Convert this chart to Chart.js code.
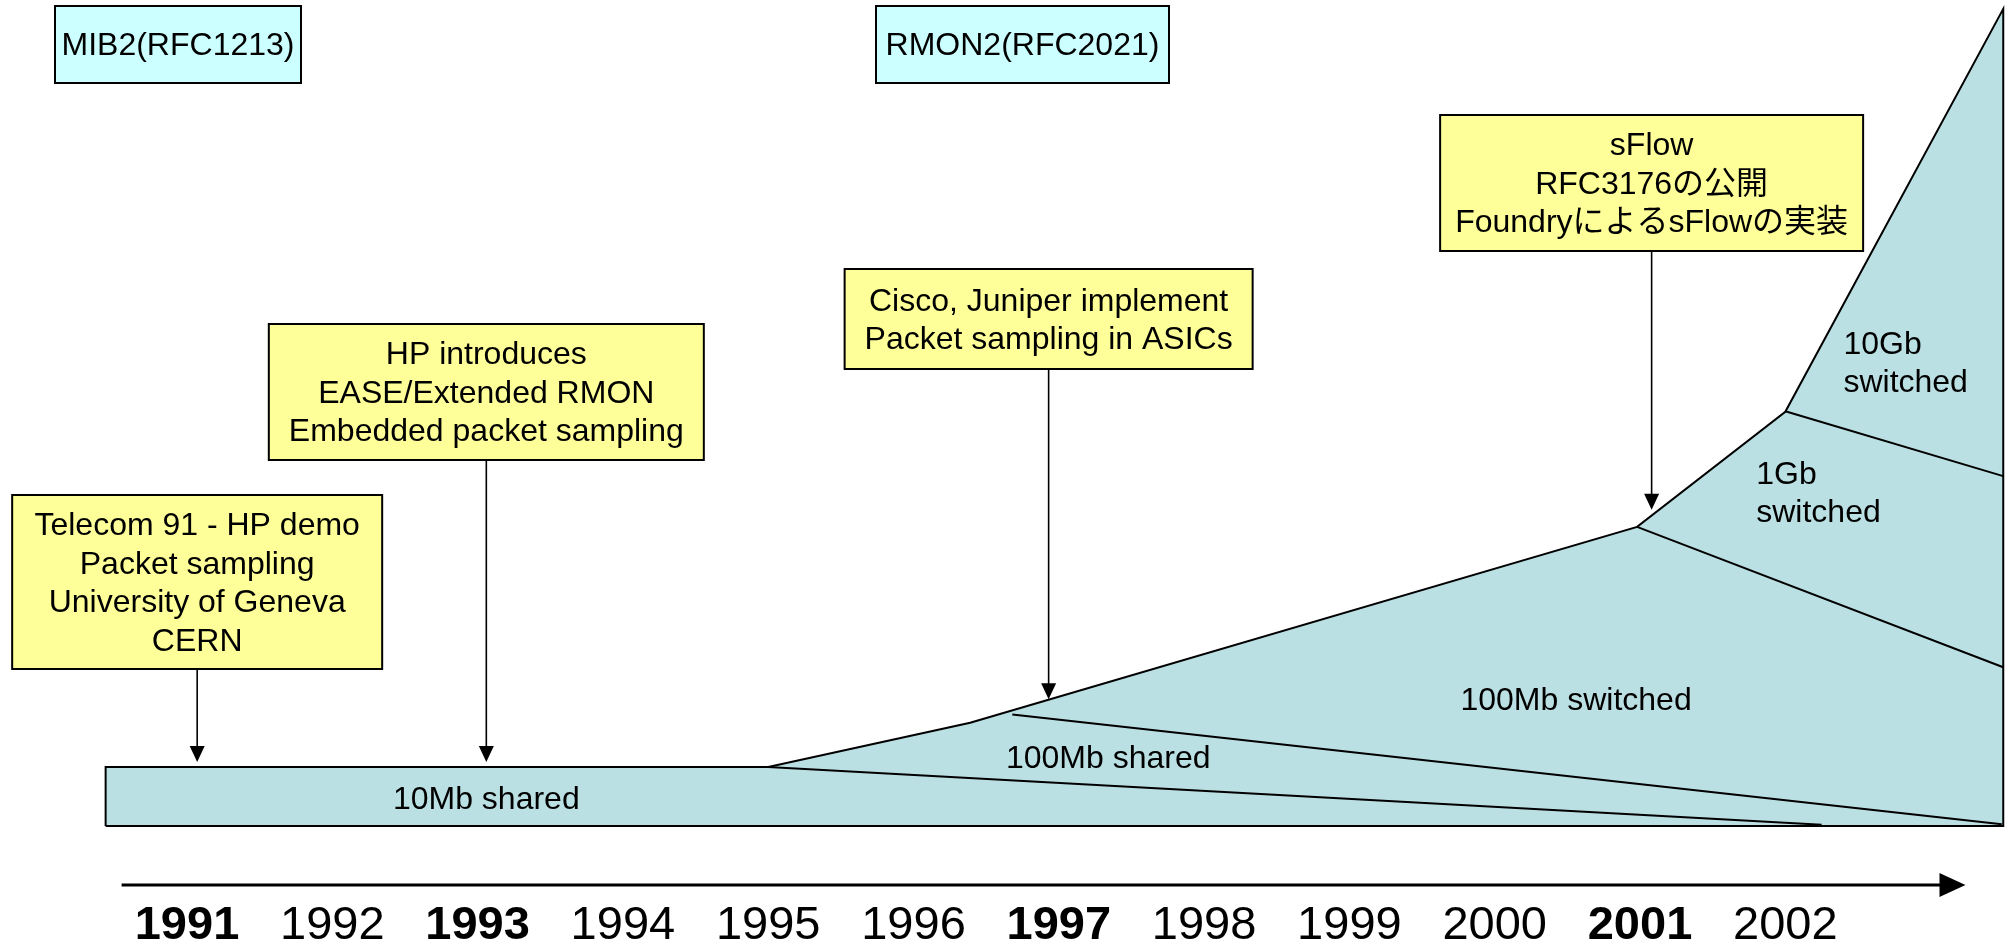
<!DOCTYPE html>
<html>
<head>
<meta charset="utf-8">
<script src="https://cdn.jsdelivr.net/npm/chart.js@4.4.1/dist/chart.umd.min.js"></script>
<style>
  html, body { margin: 0; padding: 0; background: #fff; }
  #wrap { width: 2006px; height: 944px; }
</style>
</head>
<body>
<div id="wrap"><canvas id="timeline" width="2006" height="944"></canvas></div>
<script>
// time axis
const years = [1991, 1992, 1993, 1994, 1995, 1996, 1997, 1998, 1999, 2000, 2001, 2002];
const boldYears = [1991, 1993, 1997, 2001];

// outer edge of the shaded area (year, relative level)
const envelopeYears  = [1990.44, 1995.0, 1996.39, 2000.98, 2002.0, 2003.5];
const envelopeLevels = [10, 10, 17.5, 50.7, 70.2, 138.5];

// borders between the technologies
const shared10Years   = [1995.0, 2002.25];
const shared10Levels  = [10, 0.2];
const shared100Years  = [1996.68, 2003.49];
const shared100Levels = [18.9, 0.3];
const sw100Years      = [2000.98, 2003.5];
const sw100Levels     = [50.7, 26.9];
const gig1Years       = [2002.0, 2003.5];
const gig1Levels      = [70.3, 59.3];

// names inside the shaded area
const regionNames  = [['10Mb shared'], ['100Mb shared'], ['100Mb switched'], ['1Gb', 'switched'], ['10Gb', 'switched']];
const regionYears  = [1993.06, 1997.34, 2000.56, 2001.80, 2002.40];
const regionLevels = [4.4, 11.3, 21.1, 56.2, 78.3];
const regionAlign  = ['center', 'center', 'center', 'left', 'left'];

// events pointing at the timeline
const eventText = [
  ['Telecom 91 - HP demo', 'Packet sampling', 'University of Geneva', 'CERN'],
  ['HP introduces', 'EASE/Extended RMON', 'Embedded packet sampling'],
  ['Cisco, Juniper implement', 'Packet sampling in ASICs'],
  ['sFlow', 'RFC3176の公開', 'Foundryによるs­Flowの実装'.replace('\u00ad', '')]
];
const eventYears     = [1991.07, 1993.06, 1996.93, 2001.08];
const eventTipLevels = [10.85, 10.85, 21.5, 53.6];

// standards boxes at the top
const stdText = ['MIB2(RFC1213)', 'RMON2(RFC2021)'];

// box layout (pixels)
const eventBoxes = [
  { width: 370, top: 495, bottom: 669 },
  { width: 435, top: 324, bottom: 460 },
  { width: 408, top: 269, bottom: 369 },
  { width: 423, top: 115, bottom: 251 }
];
const stdBoxes = [
  { left: 55, width: 246, top: 6, bottom: 83 },
  { left: 876, width: 293, top: 6, bottom: 83 }
];

const FONT = '"Liberation Sans", Arial, "Noto Sans CJK JP", sans-serif';
const LINE = 38.5;
const TEAL = '#bbe0e3';

function pts(xs, ys) { return xs.map((x, i) => ({ x: x, y: ys[i] })); }

const outline = [{ x: envelopeYears[0], y: 0 }]
  .concat(pts(envelopeYears, envelopeLevels))
  .concat([{ x: envelopeYears[envelopeYears.length - 1], y: 0 }, { x: envelopeYears[0], y: 0 }]);

function drawBox(ctx, left, top, width, height, fill, lines) {
  ctx.fillStyle = fill;
  ctx.fillRect(left, top, width, height);
  ctx.lineWidth = 2;
  ctx.strokeStyle = '#000';
  ctx.strokeRect(left, top, width, height);
  ctx.fillStyle = '#000';
  ctx.font = '32px ' + FONT;
  ctx.textAlign = 'center';
  ctx.textBaseline = 'middle';
  const start = top + height / 2 - (lines.length - 1) * LINE / 2;
  lines.forEach((t, i) => ctx.fillText(t, left + width / 2, start + i * LINE + 2));
}

function drawArrowDown(ctx, x, y0, y1) {
  ctx.strokeStyle = '#000';
  ctx.lineWidth = 1.6;
  ctx.beginPath();
  ctx.moveTo(x, y0);
  ctx.lineTo(x, y1 - 14);
  ctx.stroke();
  ctx.fillStyle = '#000';
  ctx.beginPath();
  ctx.moveTo(x, y1);
  ctx.lineTo(x - 7.5, y1 - 16);
  ctx.lineTo(x + 7.5, y1 - 16);
  ctx.closePath();
  ctx.fill();
}

const annotations = {
  id: 'annotations',
  afterDatasetsDraw(chart) {
    const ctx = chart.ctx;
    const xs = chart.scales.x, ys = chart.scales.y;
    ctx.save();

    // timeline arrow
    const ay = ys.getPixelForValue(-10);
    const ax0 = xs.getPixelForValue(1990.55), ax1 = xs.getPixelForValue(2003.24);
    ctx.strokeStyle = '#000';
    ctx.lineWidth = 3;
    ctx.beginPath();
    ctx.moveTo(ax0, ay);
    ctx.lineTo(ax1 - 20, ay);
    ctx.stroke();
    ctx.fillStyle = '#000';
    ctx.beginPath();
    ctx.moveTo(ax1, ay);
    ctx.lineTo(ax1 - 26, ay - 12);
    ctx.lineTo(ax1 - 26, ay + 12);
    ctx.closePath();
    ctx.fill();

    // region names
    ctx.font = '32px ' + FONT;
    ctx.textBaseline = 'middle';
    ctx.fillStyle = '#000';
    regionNames.forEach((lines, i) => {
      ctx.textAlign = regionAlign[i];
      const x = xs.getPixelForValue(regionYears[i]);
      const cy = ys.getPixelForValue(regionLevels[i]);
      const start = cy - (lines.length - 1) * LINE / 2;
      lines.forEach((t, j) => ctx.fillText(t, x, start + j * LINE));
    });

    // events
    eventText.forEach((lines, i) => {
      const b = eventBoxes[i];
      const cx = xs.getPixelForValue(eventYears[i]);
      drawBox(ctx, cx - b.width / 2, b.top, b.width, b.bottom - b.top, '#ffff99', lines);
      drawArrowDown(ctx, cx, b.bottom, ys.getPixelForValue(eventTipLevels[i]));
    });

    // standards
    stdText.forEach((t, i) => {
      const b = stdBoxes[i];
      drawBox(ctx, b.left, b.top, b.width, b.bottom - b.top, '#ccffff', [t]);
    });

    ctx.restore();
  }
};

const lineStyle = { fill: false, borderColor: '#000', borderWidth: 2, pointRadius: 0, tension: 0 };

new Chart(document.getElementById('timeline').getContext('2d'), {
  type: 'line',
  data: {
    datasets: [
      Object.assign({ label: 'outline', data: outline, order: 1 }, lineStyle),
      Object.assign({ label: '10Mb shared', data: pts(shared10Years, shared10Levels), order: 1 }, lineStyle),
      Object.assign({ label: '100Mb shared', data: pts(shared100Years, shared100Levels), order: 1 }, lineStyle),
      Object.assign({ label: '100Mb switched', data: pts(sw100Years, sw100Levels), order: 1 }, lineStyle),
      Object.assign({ label: '1Gb switched', data: pts(gig1Years, gig1Levels), order: 1 }, lineStyle),
      {
        label: 'area',
        data: pts(envelopeYears, envelopeLevels),
        fill: 'origin',
        backgroundColor: TEAL,
        borderWidth: 0,
        borderColor: 'rgba(0,0,0,0)',
        pointRadius: 0,
        tension: 0,
        order: 5
      }
    ]
  },
  options: {
    responsive: false,
    animation: false,
    layout: { padding: 0 },
    plugins: { legend: { display: false }, tooltip: { enabled: false }, title: { display: false } },
    scales: {
      x: {
        type: 'linear',
        min: 1991 - 187 / 145.3,
        max: 1991 + (2006 - 187) / 145.3,
        bounds: 'data',
        position: { y: -10 },
        grid: { display: false, drawTicks: false },
        border: { display: false },
        afterBuildTicks: axis => { axis.ticks = years.map(v => ({ value: v })); },
        ticks: {
          autoSkip: false,
          maxRotation: 0,
          padding: 13,
          color: '#000',
          callback: v => String(v),
          font: c => ({
            family: FONT,
            size: 47,
            weight: c.tick && boldYears.includes(c.tick.value) ? 'bold' : 'normal'
          })
        }
      },
      y: {
        type: 'linear',
        display: false,
        min: -20,
        max: 140,
        bounds: 'data'
      }
    }
  },
  plugins: [annotations]
});
</script>
</body>
</html>
